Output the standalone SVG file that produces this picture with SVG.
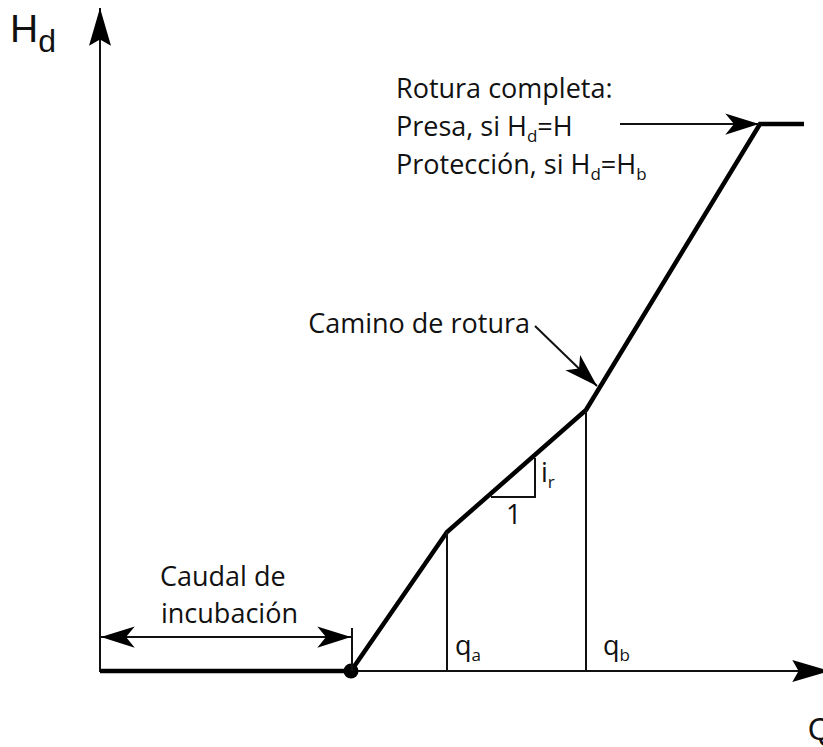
<svg xmlns="http://www.w3.org/2000/svg" width="823" height="747" viewBox="0 0 823 747">
<style>
.t{font-family:"Open Sans","Liberation Sans",sans-serif;font-size:27px;fill:#111}
.s{font-size:17px}
.ax{font-family:"Liberation Sans",Arial,sans-serif;fill:#111}
.thin{stroke:#111;stroke-width:2;fill:none}
.thick{stroke:#000;stroke-width:4.5;fill:none;stroke-linejoin:miter}
</style>
<defs>
<marker id="ah" markerUnits="userSpaceOnUse" markerWidth="40" markerHeight="30" viewBox="-30 -12 32 24" refX="0" refY="0" orient="auto">
<path d="M0,0 L-27,-8.5 L-20,0 L-27,8.5 Z" fill="#000"/>
</marker>
<marker id="ahs" markerUnits="userSpaceOnUse" markerWidth="40" markerHeight="30" viewBox="-30 -12 32 24" refX="0" refY="0" orient="auto-start-reverse">
<path d="M0,0 L-27,-8.5 L-20,0 L-27,8.5 Z" fill="#000"/>
</marker>
<marker id="big" markerUnits="userSpaceOnUse" markerWidth="44" markerHeight="30" viewBox="-40 -14 42 28" refX="0" refY="0" orient="auto">
<path d="M0,0 L-36,-10.5 L-30,0 L-36,10.5 Z" fill="#000"/>
</marker>
</defs>

<g id="axes">
<line class="thin" x1="100" y1="672" x2="100" y2="8" marker-end="url(#big)"/>
<line class="thin" x1="100" y1="671" x2="830" y2="671" marker-end="url(#big)"/>
<text class="ax" x="10" y="42" font-size="39">H<tspan font-size="32" dy="10">d</tspan></text>
<text class="ax" x="808" y="740" font-size="31">Q</text>
</g>

<g id="curve">
<polyline class="thick" points="100,671 351,671 447,532 586,410 760,124 804,124"/>
<circle cx="351" cy="671" r="7.5" fill="#000"/>
</g>

<g id="connectors">
<line class="thin" x1="447" y1="532" x2="447" y2="671"/>
<line class="thin" x1="586" y1="410" x2="586" y2="671"/>
<polyline class="thin" points="491,497 535,497 535,458"/>
<line class="thin" x1="352" y1="628" x2="352" y2="671"/>
<line class="thin" x1="101" y1="637" x2="351" y2="637" marker-start="url(#ahs)" marker-end="url(#ah)"/>
<line class="thin" x1="620" y1="124" x2="759" y2="124" marker-end="url(#ah)"/>
<line class="thin" x1="535" y1="326" x2="597" y2="386" marker-end="url(#ah)"/>
</g>

<g id="label-rotura-completa">
<text class="t" x="396" y="98">Rotura completa:</text>
<text class="t" x="396" y="136">Presa, si H<tspan class="s" dy="6">d</tspan><tspan dy="-6">=H</tspan></text>
<text class="t" x="396" y="174">Protección, si H<tspan class="s" dy="6">d</tspan><tspan dy="-6">=H</tspan><tspan class="s" dy="6">b</tspan></text>
</g>

<g id="label-camino">
<text class="t" x="530" y="333" text-anchor="end">Camino de rotura</text>
</g>

<g id="label-incubacion">
<text class="t" x="160" y="586">Caudal de</text>
<text class="t" x="161" y="623">incubación</text>
</g>

<g id="label-slope">
<text class="t" x="541" y="482">i<tspan class="s" dy="6">r</tspan></text>
<text class="t" x="506" y="524">1</text>
</g>

<g id="label-q">
<text class="t" x="455" y="655" font-size="26">q<tspan class="s" dy="6">a</tspan></text>
<text class="t" x="603" y="655" font-size="26">q<tspan class="s" dy="6">b</tspan></text>
</g>
</svg>
